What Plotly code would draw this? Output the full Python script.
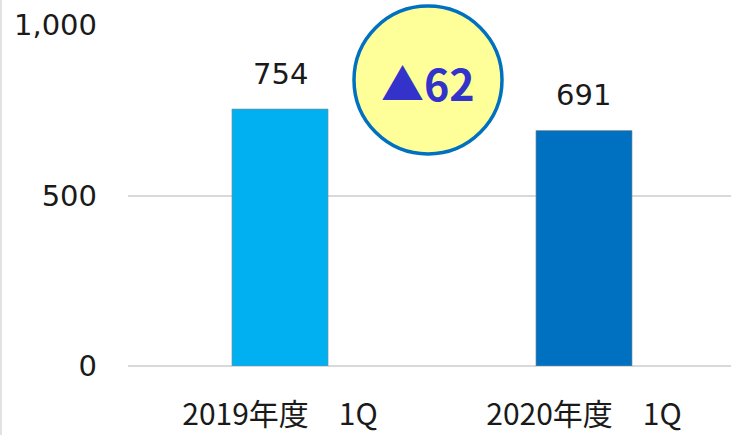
import plotly.graph_objects as go

categories = ["2019年度　1Q", "2020年度　1Q"]
values = [754, 691]
bar_colors = ["#00B0F0", "#0070C0"]
value_labels = ["754", "691"]
diff_label = "▲62"
y_tickvals = [0, 500, 1000]
y_ticktext = ["0", "500", "1,000"]

W, H = 731, 435
ml, mr, mt, mb = 128, 0, 25, 69
pw, ph = W - ml - mr, H - mt - mb

fig = go.Figure()
fig.add_trace(go.Bar(
    x=[0, 1], y=values, width=0.316,
    marker=dict(color=bar_colors, line=dict(color="rgba(140,140,140,0.6)", width=1)),
    hoverinfo="skip",
))

for i, (v, t) in enumerate(zip(values, value_labels)):
    fig.add_annotation(x=i, y=v, text=t, showarrow=False, yanchor="bottom",
                       yshift=16, font=dict(family="DejaVu Sans", size=29, color="#1a1a1a"))

# circle annotation
cx, cy, r = 428, 80, 74
x0 = (cx - r - ml) / pw
x1 = (cx + r - ml) / pw
y0 = (H - mb - (cy + r)) / ph
y1 = (H - mb - (cy - r)) / ph
fig.add_shape(type="circle", xref="paper", yref="paper", x0=x0, x1=x1, y0=y0, y1=y1,
              fillcolor="#FFFF99", line=dict(color="#0070C0", width=3.5), layer="above")
fig.add_annotation(xref="paper", yref="paper", x=(x0 + x1) / 2, y=(H - mb - 82) / ph,
                   text="<b>" + diff_label + "</b>", showarrow=False,
                   xanchor="center", yanchor="middle",
                   font=dict(family="Noto Sans CJK JP", size=43, color="#3333CC"))

# left border line
fig.add_shape(type="line", xref="paper", yref="paper",
              x0=(1 - ml) / pw, x1=(1 - ml) / pw, y0=-mb / ph, y1=1 + mt / ph,
              line=dict(color="#D9D9D9", width=1.5))

fig.update_layout(
    width=W, height=H,
    margin=dict(l=ml, r=mr, t=mt, b=mb),
    paper_bgcolor="white", plot_bgcolor="white",
    showlegend=False,
    xaxis=dict(range=[-0.5, 1.4836], tickvals=[0, 1], ticktext=categories,
               showgrid=False, zeroline=False, showline=False, ticks="",
               ticklabelstandoff=28,
               tickfont=dict(family="Noto Sans CJK JP", size=30, color="#1a1a1a")),
    yaxis=dict(range=[0, 1000.5], tickvals=y_tickvals, ticktext=y_ticktext,
               showgrid=True, gridcolor="#D9D9D9", gridwidth=1.5,
               zeroline=True, zerolinecolor="#D9D9D9", zerolinewidth=1.5,
               showline=False, ticks="", ticklabelstandoff=30,
               tickfont=dict(family="DejaVu Sans", size=29, color="#1a1a1a")),
)

fig.write_html("out.html")
